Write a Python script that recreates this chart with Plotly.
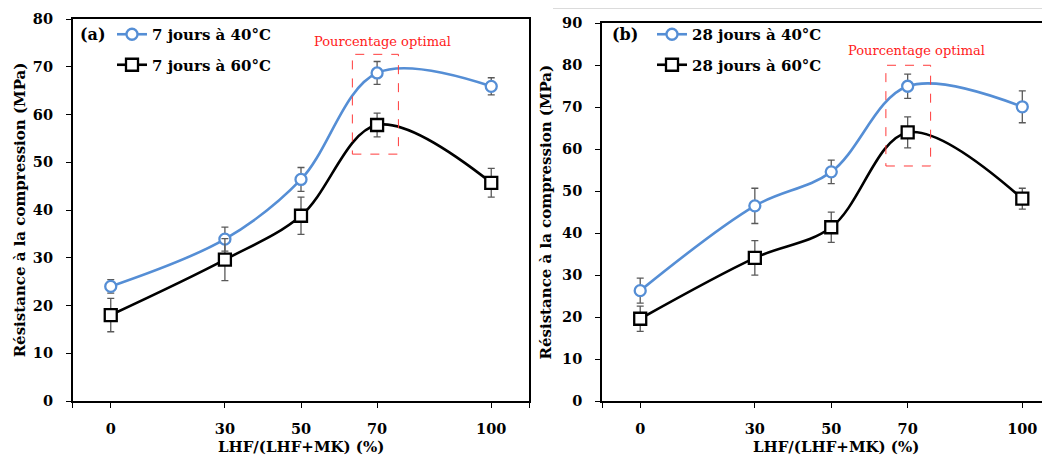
import plotly.graph_objects as go

# ---------------- data ----------------
x_pct = [0, 30, 50, 70, 100]
x_ticklabels = ["0", "30", "50", "70", "100"]

a_40 = [24.0, 33.9, 46.4, 68.7, 65.9]
a_40_err = [1.4, 2.5, 2.5, 2.4, 1.8]
a_60 = [18.0, 29.6, 38.8, 57.8, 45.7]
a_60_err = [3.5, 4.4, 3.9, 2.5, 3.0]

b_40 = [26.3, 46.5, 54.6, 75.0, 70.1]
b_40_err = [3.0, 4.2, 2.8, 2.9, 3.8]
b_60 = [19.6, 34.1, 41.4, 64.0, 48.2]
b_60_err = [3.0, 4.1, 3.6, 3.7, 2.5]

names_a = ["7 jours à 40°C", "7 jours à 60°C"]
names_b = ["28 jours à 40°C", "28 jours à 60°C"]
y_title = "Résistance à la compression (MPa)"
x_title = "LHF/(LHF+MK) (%)"
note_text = "Pourcentage optimal"
box_a = [63.5, 75.6, 51.7, 72.6]
box_b = [64.3, 76.0, 56.0, 80.0]

# ---------------- style ----------------
BLUE = "#558ED5"
BLACK = "#000000"
ERR = "#595959"
FONT = "DejaVu Serif"
OFF = 8                      # browser body margin
W, H = 1050 - OFF, 456 - OFF


def px_x(p):                 # screen pixel -> paper fraction
    return (p - OFF) / W


def px_y(p):
    return 1 - (p - OFF) / H


fig = go.Figure()


def add_series(xa, ya, vals, errs, name, color, symbol, size, legend, group):
    fig.add_trace(go.Scatter(
        x=x_pct, y=vals, xaxis=xa, yaxis=ya, name=name,
        mode="lines+markers",
        line=dict(color=color, width=2.6, shape="spline", smoothing=1.0),
        marker=dict(symbol=symbol, size=size, color="white",
                    line=dict(color=color, width=2.3)),
        error_y=dict(type="data", array=errs, visible=True, color=ERR,
                     thickness=1.3, width=3.5),
        legend=legend, legendgroup=group, showlegend=True,
    ))


add_series("x", "y", a_40, a_40_err, names_a[0], BLUE, "circle", 11, "legend", "a1")
add_series("x", "y", a_60, a_60_err, names_a[1], BLACK, "square", 12, "legend", "a2")
add_series("x2", "y2", b_40, b_40_err, names_b[0], BLUE, "circle", 11, "legend2", "b1")
add_series("x2", "y2", b_60, b_60_err, names_b[1], BLACK, "square", 12, "legend2", "b2")

axis_common = dict(
    showline=True, linecolor="black", linewidth=1.6,
    ticks="outside", ticklen=5, tickwidth=1.4, tickcolor="black",
    showgrid=False, zeroline=False, automargin=False,
    tickfont=dict(family=FONT, size=14.5, color="black", weight="bold"),
)
title_font = dict(family=FONT, size=15, color="black", weight="bold")

xa_dom = [px_x(72.7), px_x(529.3)]
xb_dom = [px_x(602), 1.0]
ya_dom = [px_y(401), px_y(19)]
yb_dom = [px_y(401), px_y(23.3)]

fig.update_layout(
    template="none",
    width=W, height=H,
    margin=dict(l=0, r=0, t=0, b=0, autoexpand=False),
    paper_bgcolor="white", plot_bgcolor="white",
    showlegend=True,
    xaxis=dict(domain=xa_dom, range=[-10, 110], anchor="y", mirror=True,
               tickvals=[-10] + x_pct + [110], ticktext=[""] + x_ticklabels + [""],
               ticklabelstandoff=9, **axis_common),
    yaxis=dict(domain=ya_dom, range=[0, 80], anchor="x", mirror=True,
               tickvals=list(range(0, 81, 10)), ticklabelstandoff=10,
               title=dict(text=y_title, standoff=4, font=title_font),
               **axis_common),
    xaxis2=dict(domain=xb_dom, range=[-10, 107.25], anchor="y2", mirror=True,
                tickvals=[-10] + x_pct, ticktext=[""] + x_ticklabels,
                ticklabelstandoff=9, **axis_common),
    yaxis2=dict(domain=yb_dom, range=[0, 90], anchor="x2", mirror=False,
                tickvals=list(range(0, 91, 10)), ticklabelstandoff=10,
                title=dict(text=y_title, standoff=7, font=title_font),
                **axis_common),
    legend=dict(x=px_x(104 + OFF), y=px_y(10 + OFF), xanchor="left", yanchor="top",
                bgcolor="rgba(0,0,0,0)", borderwidth=0, tracegroupgap=8,
                traceorder="grouped",
                font=dict(family=FONT, size=15, color="black", weight="bold")),
    legend2=dict(x=px_x(644 + OFF), y=px_y(10 + OFF), xanchor="left", yanchor="top",
                 bgcolor="rgba(0,0,0,0)", borderwidth=0, tracegroupgap=8,
                 traceorder="grouped",
                 font=dict(family=FONT, size=15, color="black", weight="bold")),
)

# x axis titles (placed at the bottom edge like the reference)
for cx in ((72.7 + 529.3) / 2, 836):
    fig.add_annotation(x=px_x(cx), y=0, xref="paper", yref="paper", text=x_title,
                       showarrow=False, xanchor="center", yanchor="bottom",
                       borderpad=0, yshift=-1, font=title_font)

# panel labels
for txt, cx in (("(a)", 93), ("(b)", 624.5)):
    fig.add_annotation(x=px_x(cx), y=px_y(35), xref="paper", yref="paper",
                       text=txt, showarrow=False, xanchor="center", yanchor="middle",
                       font=dict(family=FONT, size=16, color="black", weight="bold"))

# optimal box + text
for (xr, yr, box, tx, ty) in (("x", "y", box_a, 71.4, 75.2), ("x2", "y2", box_b, 72.3, 83.5)):
    fig.add_shape(type="rect", xref=xr, yref=yr, x0=box[0], x1=box[1], y0=box[2], y1=box[3],
                  line=dict(color="#FF3B3B", width=1, dash="dash"), fillcolor="rgba(0,0,0,0)")
    fig.add_annotation(x=tx, y=ty, xref=xr, yref=yr, text=note_text, showarrow=False,
                       xanchor="center", yanchor="middle",
                       font=dict(family=FONT, size=13, color="#FF2020"))

# thin grey frame line at top of right panel image
fig.add_shape(type="line", xref="paper", yref="paper", x0=px_x(553), x1=1.0,
              y0=0.999, y1=0.999, line=dict(color="#D9D9D9", width=1))

fig.write_html("out.html")
